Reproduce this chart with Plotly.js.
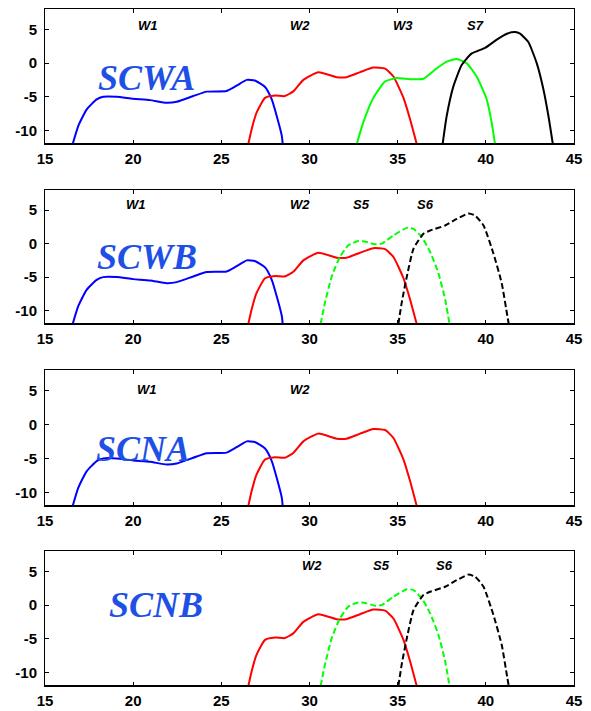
<!DOCTYPE html>
<html>
<head>
<meta charset="utf-8">
<script src="https://cdn.plot.ly/plotly-3.0.1.min.js"></script>
<style>html,body{margin:0;padding:0;background:#fff;}#chart{width:591px;height:711px;}</style>
</head>
<body>
<div id="chart"></div>
<script>
// ---- data ----
var w1X = [16.57,16.89,17.36,17.93,18.3,19.06,20.0,20.96,21.9,22.47,23.41,24.17,25.3,25.87,26.44,26.9,27.48,27.86,28.14,28.43,28.48];
var w1Y = [-12,-9.3,-6.9,-5.4,-5.0,-5.0,-5.3,-5.5,-5.9,-5.75,-4.9,-4.24,-4.15,-3.36,-2.5,-2.6,-3.55,-5.4,-7.85,-10.8,-12];

var w2X = [26.53,26.72,27.0,27.48,28.05,28.6,29.08,29.65,30.5,31.54,32.1,32.87,33.62,34.29,34.76,35.33,35.7,36.08];
var w2Y = [-12,-9.8,-7.36,-5.17,-4.83,-4.9,-4.2,-2.5,-1.36,-2.1,-2.1,-1.36,-0.68,-0.83,-2.0,-5.17,-8.3,-12];

var w3X = [32.68,33.05,33.62,34.29,34.95,35.7,36.46,37.22,37.78,38.35,38.92,39.48,40.05,40.33,40.52];
var w3Y = [-12,-8.8,-5.17,-2.73,-2.24,-2.4,-2.34,-0.78,0.2,0.58,-0.05,-2.0,-5.4,-8.8,-12];

var s7X = [37.55,37.78,38.16,38.63,39.2,39.96,40.62,41.19,41.66,41.94,42.41,42.89,43.27,43.55,43.8];
var s7Y = [-12,-7.85,-3.46,-0.3,1.42,2.24,3.46,4.34,4.58,4.34,3.11,-0.05,-3.95,-7.85,-12];

var s5X = [30.63,30.88,31.26,31.73,32.2,32.77,33.24,33.72,34.1,34.76,35.52,35.9,36.37,36.84,37.31,37.69,37.94];
var s5Y = [-12,-8.8,-4.9,-1.97,-0.25,0.38,0.24,-0.1,0.0,1.22,2.35,2.2,0.97,-1.23,-4.4,-8.3,-12];

var s6X = [35.04,35.23,35.52,35.9,36.46,36.84,37.69,38.35,39.01,39.39,39.87,40.43,40.9,41.22,41.3];
var s6Y = [-12,-8.8,-4.9,-0.74,1.47,1.96,2.7,3.68,4.5,4.2,2.7,-1.47,-5.9,-10.8,-12];

var xTickVals = [15,20,25,30,35,40,45];
var yTickVals = [5,0,-5,-10];
var yTickText = ["5","0","-5","-10"];

var panelNames = ["SCWA","SCWB","SCNA","SCNB"];
var panelNameX = [20.77,20.77,20.58,21.28];
var panelNameY = [-2.24,-2.06,-3.55,0.0];

var bandLabels = [
  ["W1","W2","W3","S7"],
  ["W1","W2","S5","S6"],
  ["W1","W2"],
  ["W2","S5","S6"]
];
var bandLabelX = [
  [20.84,29.46,35.3,39.4],
  [20.16,29.46,32.96,36.55],
  [20.77,29.46],
  [30.13,34.1,37.63]
];
var bandLabelY = [5.55,5.9,5.2,5.84];

// ---- build ----
var BLUE='rgb(0,0,255)', RED='rgb(255,0,0)', GREEN='rgb(0,255,0)', BLACK='rgb(0,0,0)';
function tr(x,y,color,dash,ax){
  return {x:x,y:y,type:'scatter',mode:'lines',xaxis:'x'+ax,yaxis:'y'+ax,
    line:{color:color,width:2,dash:dash||'solid',shape:'spline',smoothing:0.5},hoverinfo:'skip'};
}
var traces = [];
// panel 1
traces.push(tr(w1X,w1Y,BLUE,null,''));
traces.push(tr(w2X,w2Y,RED,null,''));
traces.push(tr(w3X,w3Y,GREEN,null,''));
traces.push(tr(s7X,s7Y,BLACK,null,''));
// panel 2
traces.push(tr(w1X,w1Y,BLUE,null,'2'));
traces.push(tr(w2X,w2Y,RED,null,'2'));
traces.push(tr(s5X,s5Y,GREEN,'6px,3px','2'));
traces.push(tr(s6X,s6Y,BLACK,'6px,3px','2'));
// panel 3
traces.push(tr(w1X,w1Y,BLUE,null,'3'));
traces.push(tr(w2X,w2Y,RED,null,'3'));
// panel 4
traces.push(tr(w2X,w2Y,RED,null,'4'));
traces.push(tr(s5X,s5Y,GREEN,'6px,3px','4'));
traces.push(tr(s6X,s6Y,BLACK,'6px,3px','4'));

var domains = [[0.8006,1],[0.5347,0.7326],[0.2659,0.4668],[0,0.1994]];
var tickFont = {family:'Liberation Sans, Arial, sans-serif', size:15, color:'#000', weight:'bold'};
var layout = {
  width:591, height:711,
  margin:{l:45,r:17,t:9,b:25,pad:0},
  paper_bgcolor:'#fff', plot_bgcolor:'#fff',
  showlegend:false, hovermode:false,
  annotations:[], shapes:[]
};
var axSuffix = ['','2','3','4'];
for (var i=0;i<4;i++){
  var s = axSuffix[i];
  layout['xaxis'+s] = {domain:[0,1], anchor:'y'+s, range:[15,45], tickmode:'array', tickvals:xTickVals,
    ticks:'inside', ticklen:4, tickwidth:1, tickcolor:'#000', showline:true, linecolor:'#000', linewidth:1,
    mirror:'ticks', showgrid:false, zeroline:false, tickfont:tickFont, ticklabelstandoff:1, fixedrange:true};
  layout['yaxis'+s] = {domain:domains[i], anchor:'x'+s, range:[-12,8], tickmode:'array', tickvals:yTickVals, ticktext:yTickText,
    ticks:'inside', ticklen:4, tickwidth:1, tickcolor:'#000', showline:true, linecolor:'#000', linewidth:1,
    mirror:'ticks', showgrid:false, zeroline:false, tickfont:tickFont, ticklabelstandoff:4, fixedrange:true};
  layout.shapes.push({type:'line', xref:'x'+s+' domain', yref:'y'+s+' domain', x0:0, x1:1, y0:0, y1:0,
    line:{color:'#000', width:2}});
  layout.annotations.push({xref:'x'+s, yref:'y'+s, x:panelNameX[i], y:panelNameY[i], showarrow:false,
    text:'<b><i>'+panelNames[i]+'</i></b>', xanchor:'center', yanchor:'middle',
    font:{family:'Liberation Serif, Times New Roman, serif', size:36, color:'rgb(30,80,230)'}});
  for (var j=0;j<bandLabels[i].length;j++){
    layout.annotations.push({xref:'x'+s, yref:'y'+s, x:bandLabelX[i][j], y:bandLabelY[i], showarrow:false,
      text:'<b><i>'+bandLabels[i][j]+'</i></b>', xanchor:'center', yanchor:'middle',
      font:{family:'Liberation Sans, Arial, sans-serif', size:13, color:'#000'}});
  }
}
Plotly.newPlot('chart', traces, layout, {staticPlot:true, displayModeBar:false});
</script>
</body>
</html>
